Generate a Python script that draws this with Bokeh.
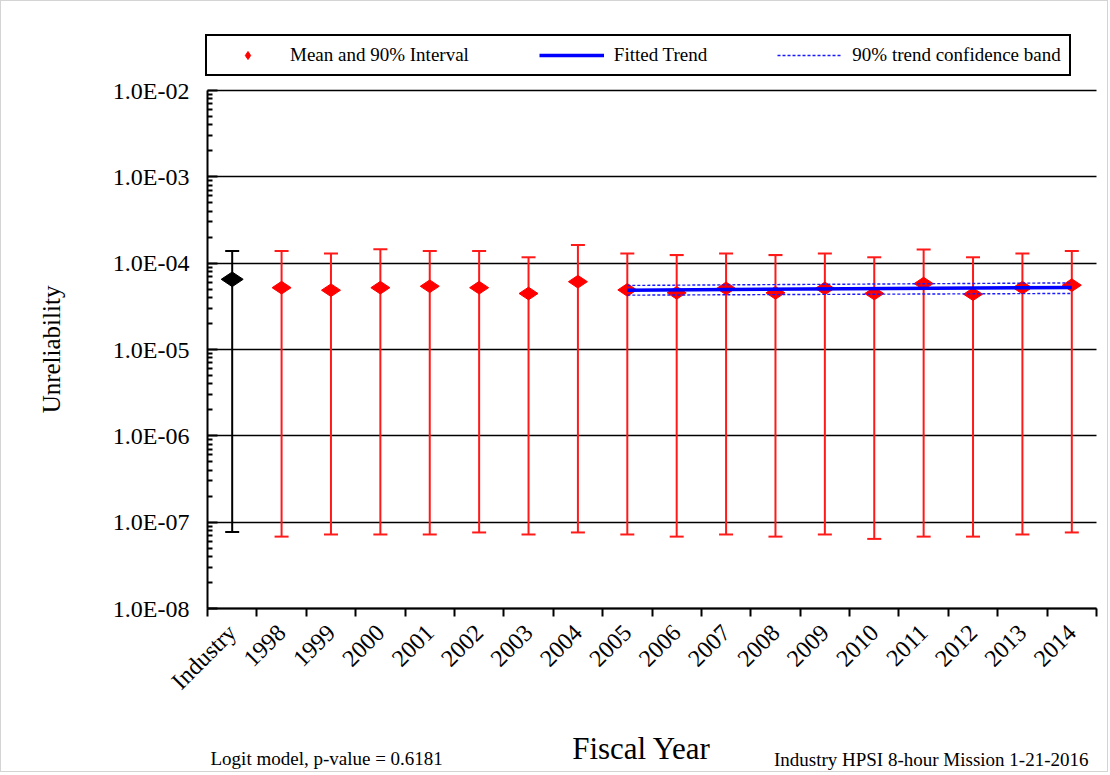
import math
from bokeh.plotting import figure
from bokeh.models import (ColumnDataSource, Whisker, TeeHead, FixedTicker, CustomJSTickFormatter,
                          Legend, LegendItem, Label, Range1d)
from bokeh.embed import file_html
from bokeh.resources import INLINE

# ---------------- data ----------------
categories = ["Industry", "1998", "1999", "2000", "2001", "2002", "2003", "2004", "2005",
              "2006", "2007", "2008", "2009", "2010", "2011", "2012", "2013", "2014"]
means = [6.5e-5, 5.2e-5, 4.86e-5, 5.2e-5, 5.4e-5, 5.2e-5, 4.45e-5, 6.1e-5, 4.9e-5,
         4.53e-5, 5.1e-5, 4.53e-5, 5.1e-5, 4.45e-5, 5.8e-5, 4.37e-5, 5.2e-5, 5.56e-5]
upper = [1.38e-4, 1.38e-4, 1.29e-4, 1.45e-4, 1.38e-4, 1.38e-4, 1.17e-4, 1.62e-4, 1.29e-4,
         1.24e-4, 1.29e-4, 1.24e-4, 1.29e-4, 1.17e-4, 1.44e-4, 1.17e-4, 1.29e-4, 1.38e-4]
lower = [7.7e-8, 6.8e-8, 7.2e-8, 7.2e-8, 7.2e-8, 7.6e-8, 7.2e-8, 7.6e-8, 7.2e-8,
         6.8e-8, 7.2e-8, 6.8e-8, 7.2e-8, 6.4e-8, 6.8e-8, 6.8e-8, 7.2e-8, 7.6e-8]

trend_years = ["2005", "2014"]
trend_fit = [4.87e-5, 5.23e-5]
trend_band_upper = [5.52e-5, 5.91e-5]
trend_band_lower = [4.26e-5, 4.46e-5]

y_tick_values = [1e-8, 1e-7, 1e-6, 1e-5, 1e-4, 1e-3, 1e-2]
y_tick_labels = ["1.0E-08", "1.0E-07", "1.0E-06", "1.0E-05", "1.0E-04", "1.0E-03", "1.0E-02"]

legend_labels = ["Mean and 90% Interval", "Fitted Trend", "90% trend confidence band"]
note_left = "Logit model, p-value = 0.6181"
note_right = "Industry HPSI 8-hour Mission 1-21-2016"
x_title = "Fiscal  Year"
y_title = "Unreliability"

# ---------------- layout (pixels of the page) ----------------
W, H = 1108, 772
PLOT_L, PLOT_R, PLOT_T, PLOT_B = 207, 1096, 90, 608   # plot-area box on the page
n = len(categories)
px_per_cat = (PLOT_R - PLOT_L) / n
ymin_dec, ymax_dec = math.log10(y_tick_values[0]), math.log10(y_tick_values[-1])
px_per_dec = (PLOT_B - PLOT_T) / (ymax_dec - ymin_dec)
x_start = (1 - PLOT_L) / px_per_cat
x_end = n + (1 + W - PLOT_R) / px_per_cat
y_top = 10 ** (ymax_dec + (PLOT_T - 1) / px_per_dec)
y_bot = 10 ** (ymin_dec - (1 + H - PLOT_B) / px_per_dec)

def sx(px):  # page x -> frame screen x
    return px - 1

def sy(py):  # page y -> frame screen y (from bottom)
    return 1 + H - py

# ---------------- derived positions (through scales) ----------------
xs = [i + 0.5 for i in range(n)]
src_ind = ColumnDataSource(dict(x=xs[:1], m=means[:1], up=upper[:1], lo=lower[:1]))
src_yr = ColumnDataSource(dict(x=xs[1:], m=means[1:], up=upper[1:], lo=lower[1:]))
tx = [categories.index(y) + 0.5 for y in trend_years]

SERIF = "Liberation Serif"

p = figure(width=W, height=H, output_backend="svg", toolbar_location=None,
           y_axis_type="log", x_range=Range1d(x_start, x_end), y_range=Range1d(y_bot, y_top),
           min_border=0)
p.outline_line_color = None
p.background_fill_color = "white"
p.border_fill_color = "white"
p.styles = {"border": "1px solid #d4d4d4"}

# y axis
minor = [k * d for d in y_tick_values[:-1] for k in range(2, 10)]
yt = FixedTicker(ticks=y_tick_values, minor_ticks=minor)
ya = p.yaxis[0]
ya.fixed_location = 0
ya.bounds = (y_tick_values[0], y_tick_values[-1])
ya.ticker = yt
ya.formatter = CustomJSTickFormatter(args=dict(vals=y_tick_values, labs=y_tick_labels), code="""
    let best = 0, bd = 1e9;
    for (let i = 0; i < vals.length; i++) {
        const d = Math.abs(Math.log10(vals[i]) - Math.log10(tick));
        if (d < bd) { bd = d; best = i; }
    }
    return labs[best];
""")
ya.major_tick_in = 10
ya.major_tick_out = 0
ya.minor_tick_in = 5
ya.minor_tick_out = 0
ya.axis_line_width = 2
ya.axis_line_color = "black"
ya.major_tick_line_color = "black"
ya.minor_tick_line_color = "black"
ya.major_tick_line_width = 2
ya.minor_tick_line_width = 2
ya.major_label_text_font = SERIF
ya.major_label_text_font_size = "24px"
ya.major_label_text_color = "black"
ya.major_label_standoff = 18
ya.axis_label = y_title
ya.axis_label_text_font = SERIF
ya.axis_label_text_font_size = "25px"
ya.axis_label_text_font_style = "normal"
ya.axis_label_text_color = "black"
ya.axis_label_standoff = 45

# x axis
xa = p.xaxis[0]
xa.fixed_location = y_tick_values[0]
xa.bounds = (0, n)
xt = FixedTicker(ticks=xs, minor_ticks=list(range(n + 1)))
xa.ticker = xt
xa.formatter = CustomJSTickFormatter(args=dict(labels=categories), code="""
    const i = Math.floor(tick);
    return (i >= 0 && i < labels.length) ? labels[i] : "";
""")
xa.major_tick_in = 0
xa.major_tick_out = 0
xa.minor_tick_in = 0
xa.minor_tick_out = 8
xa.minor_tick_line_width = 2
xa.minor_tick_line_color = "black"
xa.axis_line_width = 2
xa.axis_line_color = "black"
xa.major_label_orientation = math.pi / 4
xa.major_label_text_font = SERIF
xa.major_label_text_font_size = "24px"
xa.major_label_text_color = "black"
xa.major_label_standoff = 12

# grids
p.xgrid.grid_line_color = None
p.ygrid.ticker = yt
p.ygrid.bounds = (y_tick_values[0], y_tick_values[-1])
p.ygrid.cross_bounds = (0, n)
p.ygrid.grid_line_color = "black"
p.ygrid.grid_line_width = 1.5
p.ygrid.minor_grid_line_color = None

# error bars
w_ind = Whisker(source=src_ind, base="x", upper="up", lower="lo", dimension="height",
                line_color="black", line_width=2,
                upper_head=TeeHead(size=14, line_color="black", line_width=2),
                lower_head=TeeHead(size=14, line_color="black", line_width=2))
w_yr = Whisker(source=src_yr, base="x", upper="up", lower="lo", dimension="height",
               line_color="#ff1a1a", line_width=2,
               upper_head=TeeHead(size=14, line_color="#ff1a1a", line_width=2),
               lower_head=TeeHead(size=14, line_color="#ff1a1a", line_width=2))
p.add_layout(w_ind)
p.add_layout(w_yr)

p.scatter("x", "m", source=src_ind, marker="diamond", angle=math.pi / 2, size=22,
          fill_color="black", line_color="black")
r_mean = p.scatter("x", "m", source=src_yr, marker="diamond", angle=math.pi / 2, size=19,
                   fill_color="#ff0000", line_color="#ff0000")

# trend
r_bu = p.line(tx, trend_band_upper, line_color="#1a1aff", line_width=1.4, line_dash="3 2")
p.line(tx, trend_band_lower, line_color="#1a1aff", line_width=1.4, line_dash="3 2")
r_fit = p.line(tx, trend_fit, line_color="#0000ff", line_width=3.5)

legend = Legend(items=[LegendItem(label=legend_labels[0], renderers=[r_mean]),
                       LegendItem(label=legend_labels[1], renderers=[r_fit]),
                       LegendItem(label=legend_labels[2], renderers=[r_bu])],
                orientation="horizontal", location=(sx(205), sy(76)),
                border_line_color="black", border_line_width=2, border_line_alpha=1.0,
                background_fill_color="white", background_fill_alpha=1.0,
                label_text_font=SERIF, label_text_font_size="19px", label_text_color="black",
                glyph_width=65, label_standoff=10, spacing=70, padding=8, margin=0)
p.add_layout(legend, "center")

# bottom texts
p.add_layout(Label(x=sx(645), y=sy(748), x_units="screen", y_units="screen", text=x_title,
                   text_font=SERIF, text_font_size="31px", text_color="black",
                   text_baseline="alphabetic", text_align="center"))
p.add_layout(Label(x=sx(210), y=sy(758), x_units="screen", y_units="screen", text=note_left,
                   text_font=SERIF, text_font_size="19px", text_color="black",
                   text_baseline="alphabetic", text_align="left"))
p.add_layout(Label(x=sx(1088), y=sy(759), x_units="screen", y_units="screen", text=note_right,
                   text_font=SERIF, text_font_size="19px", text_color="black",
                   text_baseline="alphabetic", text_align="right"))

open("out.html", "w").write(file_html(p, INLINE))
